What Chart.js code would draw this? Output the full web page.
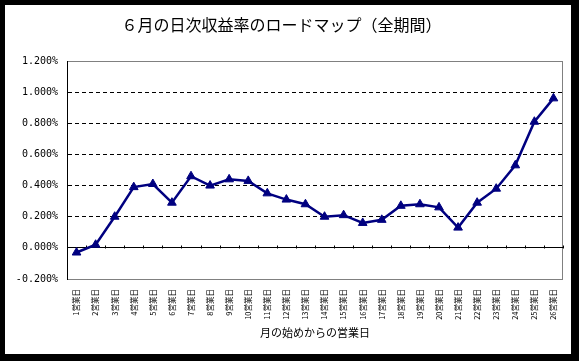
<!DOCTYPE html>
<html lang="ja">
<head>
<meta charset="utf-8">
<title>６月の日次収益率のロードマップ（全期間）</title>
<script src="https://cdn.jsdelivr.net/npm/chart.js@4.4.1/dist/chart.umd.min.js"></script>
<style>
    html, body { margin: 0; padding: 0; background: #000; }
    canvas { display: block; }
</style>
</head>
<body>
<canvas id="roadmapChart" width="579" height="361"></canvas>
<script>
// business day labels along the x axis
const dayLabels = [
    "1営業日", "2営業日", "3営業日", "4営業日", "5営業日", "6営業日", "7営業日",
    "8営業日", "9営業日", "10営業日", "11営業日", "12営業日", "13営業日", "14営業日",
    "15営業日", "16営業日", "17営業日", "18営業日", "19営業日", "20営業日", "21営業日",
    "22営業日", "23営業日", "24営業日", "25営業日", "26営業日"
];

// cumulative daily return, in percent
const returnValues = [
    -0.03, 0.02, 0.20, 0.39, 0.41, 0.29, 0.46, 0.40, 0.44, 0.43, 0.35, 0.31, 0.28,
    0.20, 0.21, 0.16, 0.18, 0.27, 0.28, 0.26, 0.13, 0.29, 0.38, 0.53, 0.81, 0.96
];

const yMin = -0.2;
const yMax = 1.2;
const yStep = 0.2;

const chartTitle = "６月の日次収益率のロードマップ（全期間）";
const xTitle = "月の始めからの営業日";

(function () {
    const palette = {
        navy: "#000080",
        ink: "#000000",
        frame: "#808080",
        paper: "#ffffff"
    };

    const jp = "'Noto Sans CJK JP', 'Noto Sans', sans-serif";

    function isTick(ctx, value) {
        return ctx.tick && Math.abs(ctx.tick.value - value) < 1e-9;
    }

    function isPlainGrid(ctx) {
        return ctx.tick && !isTick(ctx, 0) && !isTick(ctx, yMin) && !isTick(ctx, yMax);
    }

    function percentLabel(value) {
        const v = Math.abs(value) < 1e-9 ? 0 : value;
        return v.toFixed(3) + "%";
    }

    // black border with white sheet, grey plot frame, small marks on the zero line
    const framePlugin = {
        id: "frame",
        beforeDraw(chart) {
            const { ctx, chartArea: a } = chart;
            ctx.save();
            ctx.fillStyle = palette.ink;
            ctx.fillRect(0, 0, chart.width, chart.height);
            ctx.fillStyle = palette.paper;
            ctx.fillRect(5, 5, 566, 349);
            ctx.strokeStyle = palette.frame;
            ctx.lineWidth = 1;
            ctx.strokeRect(a.left + 0.5, a.top + 0.5, a.right - a.left - 1, a.bottom - a.top);
            ctx.restore();
        },
        beforeDatasetsDraw(chart) {
            const { ctx } = chart;
            const x = chart.scales.x;
            const y0 = Math.round(chart.scales.y.getPixelForValue(0)) + 0.5;
            const step = (x.right - x.left) / dayLabels.length;
            ctx.save();
            ctx.strokeStyle = palette.ink;
            ctx.lineWidth = 1;
            ctx.beginPath();
            for (let i = 1; i <= dayLabels.length; i++) {
                const px = Math.round(x.left + i * step) + 0.5;
                ctx.moveTo(px, y0 - 3);
                ctx.lineTo(px, y0);
            }
            ctx.stroke();
            ctx.restore();
        }
    };

    new Chart(document.getElementById("roadmapChart"), {
        type: "line",
        data: {
            labels: dayLabels,
            datasets: [{
                data: returnValues,
                borderColor: palette.navy,
                backgroundColor: palette.navy,
                borderWidth: 2.5,
                tension: 0,
                pointStyle: "triangle",
                pointRadius: 5,
                pointBorderWidth: 1,
                pointBackgroundColor: palette.navy,
                pointBorderColor: palette.navy
            }]
        },
        options: {
            responsive: false,
            animation: false,
            layout: { padding: { left: 0, right: 16, top: 0, bottom: 0 } },
            plugins: {
                legend: { display: false },
                tooltip: { enabled: false },
                title: {
                    display: true,
                    text: chartTitle,
                    color: palette.ink,
                    font: { family: jp, size: 16, weight: "normal" },
                    padding: { top: 15.4, bottom: 26.4 }
                }
            },
            scales: {
                x: {
                    offset: true,
                    grid: { display: false, drawTicks: false, offset: true },
                    border: { display: false },
                    ticks: {
                        color: palette.ink,
                        font: { family: jp, size: 7.5 },
                        minRotation: 90,
                        maxRotation: 90,
                        autoSkip: false,
                        padding: 10
                    },
                    title: {
                        display: true,
                        text: xTitle,
                        color: palette.ink,
                        font: { family: jp, size: 11 },
                        padding: { top: 0, bottom: 21.4 }
                    },
                    afterFit: scale => { scale.height = 82; }
                },
                y: {
                    min: yMin,
                    max: yMax,
                    grid: {
                        drawTicks: false,
                        color: ctx => (isTick(ctx, yMin) || isTick(ctx, yMax)) ? palette.frame : palette.ink,
                        lineWidth: 1
                    },
                    border: {
                        display: true,
                        color: palette.ink,
                        width: 1,
                        dash: ctx => isPlainGrid(ctx) ? [4, 3] : []
                    },
                    ticks: {
                        stepSize: yStep,
                        color: palette.ink,
                        font: { family: "'DejaVu Sans Mono', monospace", size: 10 },
                        padding: 9,
                        callback: percentLabel
                    },
                    afterFit: scale => { scale.width = 67; }
                }
            }
        },
        plugins: [framePlugin]
    });
})();
</script>
</body>
</html>
